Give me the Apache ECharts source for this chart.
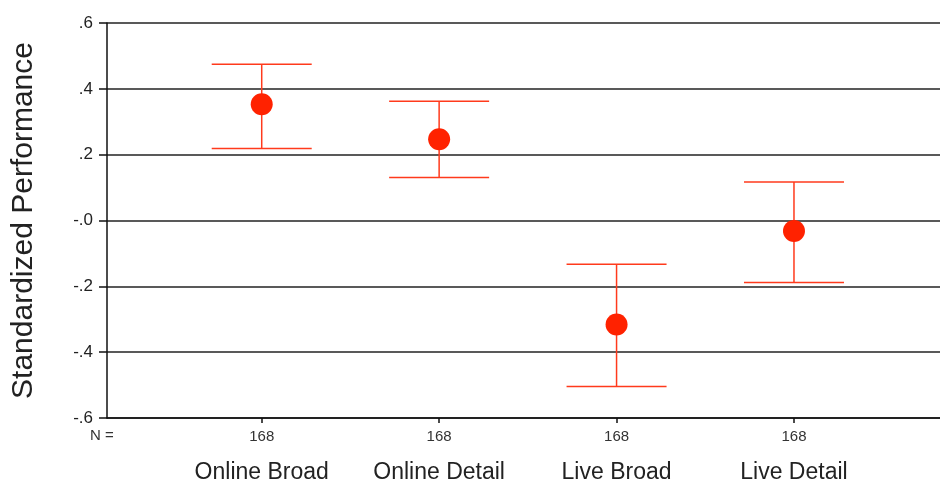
<!DOCTYPE html>
<html>
<head>
<meta charset="utf-8">
<script src="https://cdn.jsdelivr.net/npm/echarts@6/dist/echarts.min.js"></script>
<style>
  html, body { margin: 0; padding: 0; background: #fff; }
  #chart { width: 940px; height: 485px; }
</style>
</head>
<body>
<div id="chart"></div>
<script>
// 分组
const categories = ["Online Broad", "Online Detail", "Live Broad", "Live Detail"];
const nCounts = [168, 168, 168, 168];
// 均值和误差线上下限
const means = [0.353, 0.247, -0.316, -0.032];
const upper = [0.475, 0.362, -0.133, 0.117];
const lower = [0.219, 0.131, -0.504, -0.188];

const xPos = categories.map((c, i) => i + 1);
const red = "#ff3a1c";

function fmtY(v) {
  const r = Math.round(v * 10);
  if (r === 0) return "-.0";
  return (r < 0 ? "-." : ".") + Math.abs(r);
}

const chart = echarts.init(document.getElementById("chart"));

const options = {
  animation: false,
  textStyle: { fontFamily: "Liberation Sans, Arial, sans-serif" },
  grid: {
    left: 107,
    top: 23,
    right: 0,
    height: 395,
  },
  xAxis: {
    type: "value",
    min: 0.128,
    max: 4.823,
    splitLine: { show: false },
    axisLine: { show: true, onZero: false, lineStyle: { color: "#111", width: 1.5 } },
    axisTick: {
      show: true,
      customValues: xPos,
      length: 5,
      lineStyle: { color: "#111", width: 1.5 },
    },
    axisLabel: {
      show: true,
      customValues: xPos,
      margin: 8,
      formatter: (v) => {
        const i = Math.round(v) - 1;
        return "{n|" + nCounts[i] + "}\n{c|" + categories[i] + "}";
      },
      rich: {
        n: { fontSize: 15, lineHeight: 22, color: "#333" },
        c: { fontSize: 23, lineHeight: 50, color: "#222" },
      },
    },
  },
  yAxis: {
    type: "value",
    min: -0.6,
    max: 0.6,
    interval: 0.2,
    name: "Standardized Performance",
    nameLocation: "middle",
    nameRotate: 90,
    nameGap: 68,
    nameTextStyle: { fontSize: 30, color: "#222" },
    axisLine: { show: true, lineStyle: { color: "#111", width: 1.5 } },
    axisTick: { show: true, length: 8, lineStyle: { color: "#111", width: 1.5 } },
    axisLabel: {
      margin: 14,
      fontSize: 17,
      color: "#222",
      formatter: fmtY,
    },
    splitLine: { show: true, lineStyle: { color: "#222", width: 1.5 } },
  },
  graphic: [
    {
      type: "text",
      left: 90,
      top: 428,
      style: { text: "N =", fontSize: 15, fill: "#333", fontFamily: "Liberation Sans, Arial, sans-serif" },
    },
  ],
  series: [
    {
      name: "误差线",
      type: "custom",
      data: xPos.map((x, i) => [x, lower[i], upper[i]]),
      renderItem: (params, api) => {
        const lo = api.coord([api.value(0), api.value(1)]);
        const hi = api.coord([api.value(0), api.value(2)]);
        const hw = 50;
        const style = { stroke: red, lineWidth: 1.5 };
        return {
          type: "group",
          children: [
            { type: "line", shape: { x1: lo[0], y1: lo[1], x2: hi[0], y2: hi[1] }, style },
            { type: "line", shape: { x1: hi[0] - hw, y1: hi[1], x2: hi[0] + hw, y2: hi[1] }, style },
            { type: "line", shape: { x1: lo[0] - hw, y1: lo[1], x2: lo[0] + hw, y2: lo[1] }, style },
          ],
        };
      },
      z: 3,
    },
    {
      name: "均值",
      type: "scatter",
      data: xPos.map((x, i) => [x, means[i]]),
      symbol: "circle",
      symbolSize: 22,
      itemStyle: { color: "#ff2200", opacity: 1 },
      z: 4,
    },
  ],
};

chart.setOption(options);
</script>
</body>
</html>
